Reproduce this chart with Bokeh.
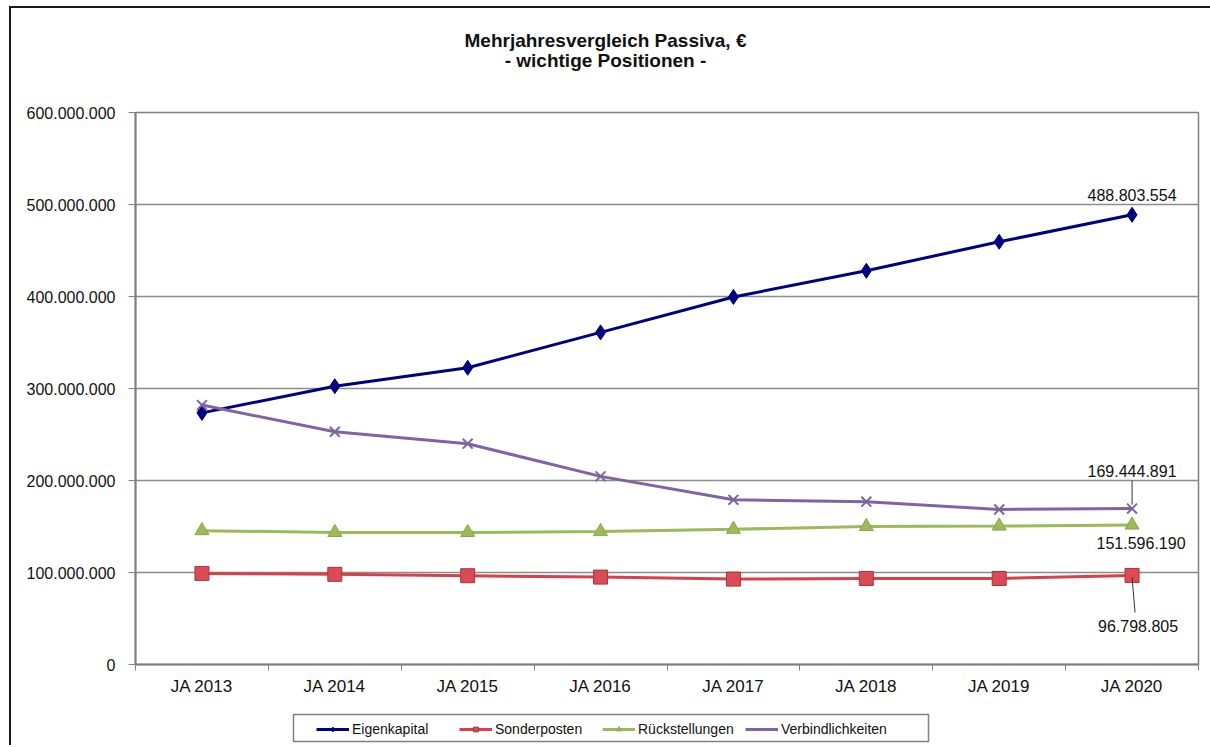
from bokeh.plotting import figure
from bokeh.layouts import column
from bokeh.models import Legend, LegendItem, FixedTicker, Range1d, Label
from bokeh.core.properties import value
from bokeh.embed import file_html
from bokeh.resources import INLINE

# ---- data ----
years = ["JA 2013", "JA 2014", "JA 2015", "JA 2016", "JA 2017", "JA 2018", "JA 2019", "JA 2020"]
eigenkapital = [273.5e6, 302.5e6, 322.5e6, 361.0e6, 399.5e6, 428.0e6, 459.5e6, 488803554]
sonderposten = [99.0e6, 98.0e6, 96.5e6, 95.0e6, 92.8e6, 93.5e6, 93.5e6, 96798805]
rueckstellungen = [145.5e6, 143.5e6, 143.5e6, 144.5e6, 147.0e6, 150.0e6, 150.5e6, 151596190]
verbindlichkeiten = [282.0e6, 253.0e6, 240.0e6, 204.5e6, 179.0e6, 177.0e6, 168.5e6, 169444891]
series_names = ["Eigenkapital", "Sonderposten", "Rückstellungen", "Verbindlichkeiten"]
y_ticks = [0, 100e6, 200e6, 300e6, 400e6, 500e6, 600e6]
y_tick_labels = ["0", "100.000.000", "200.000.000", "300.000.000", "400.000.000", "500.000.000", "600.000.000"]
end_labels = ["488.803.554", "96.798.805", "151.596.190", "169.444.891"]
title_lines = ["Mehrjahresvergleich Passiva, €", "- wichtige Positionen -"]

FONT = "Liberation Sans"
W = 1199
FL, FR = 135, 1198   # horizontal extent of the plotting frame on the page (column aligns frames)
xs = [i + 0.5 for i in range(len(years))]
bounds = [i for i in range(len(years) + 1)]

styles = {
    "Eigenkapital": dict(line_color="#000080", marker="diamond", size=15, fill_color="#000080", mline="#000080"),
    "Sonderposten": dict(line_color="#d9404b", marker="square", size=14, fill_color="#dc4a55", mline="#a03a3a"),
    "Rückstellungen": dict(line_color="#9bbb59", marker="triangle", size=14, fill_color="#9bbb59", mline="#86a84a"),
    "Verbindlichkeiten": dict(line_color="#8064a2", marker="x", size=14, fill_color="#8064a2", mline="#8064a2"),
}

# ---------- title strip ----------
t_h = 96
pt = figure(width=W, height=t_h, output_backend="svg", toolbar_location=None,
            x_range=Range1d(FL, FR), y_range=Range1d(0, t_h),
            x_axis_type=None, y_axis_type=None, min_border=0)
pt.grid.visible = False
pt.outline_line_color = None
pt.text(x=[605, 605], y=[t_h - 32, t_h - 52], text=title_lines,
        text_font=value(FONT), text_font_size="19px", text_font_style="bold",
        text_color="#111111", text_align="center", text_baseline="middle")

# ---------- main chart ----------
p = figure(width=W, height=598, output_backend="svg", toolbar_location=None,
           x_range=Range1d(0, len(years)), y_range=Range1d(0, 600e6),
           min_border_left=124, min_border_right=12, min_border_top=8, min_border_bottom=38)
p.background_fill_color = "white"
p.border_fill_color = "white"
p.outline_line_color = "#808080"
p.outline_line_width = 1.5

p.xaxis.ticker = FixedTicker(ticks=xs, minor_ticks=bounds)
p.xaxis.major_label_overrides = {x: y for x, y in zip(xs, years)}
p.xaxis.major_tick_out = 0
p.xaxis.major_tick_in = 0
p.xaxis.minor_tick_out = 6
p.xaxis.minor_tick_in = 0
p.xaxis.minor_tick_line_color = "#808080"
p.xaxis.axis_line_color = "#808080"
p.xaxis.axis_line_width = 2
p.xaxis.major_label_text_font = FONT
p.xaxis.major_label_text_font_size = "17px"
p.xaxis.major_label_text_color = "#111111"
p.xaxis.major_label_standoff = 6

p.yaxis.ticker = FixedTicker(ticks=y_ticks)
p.yaxis.major_label_overrides = {t: l for t, l in zip(y_ticks, y_tick_labels)}
p.yaxis.major_tick_out = 7
p.yaxis.major_tick_in = 0
p.yaxis.major_tick_line_color = "#808080"
p.yaxis.minor_tick_line_color = None
p.yaxis.axis_line_color = "#808080"
p.yaxis.axis_line_width = 2
p.yaxis.major_label_text_font = FONT
p.yaxis.major_label_text_font_size = "16px"
p.yaxis.major_label_text_color = "#111111"
p.yaxis.major_label_standoff = 13

p.xgrid.grid_line_color = None
p.ygrid.ticker = FixedTicker(ticks=y_ticks)
p.ygrid.grid_line_color = "#8c8c8c"
p.ygrid.grid_line_width = 1.5

for name, vals in zip(series_names, [eigenkapital, sonderposten, rueckstellungen, verbindlichkeiten]):
    s = styles[name]
    p.line(xs, vals, line_color=s["line_color"], line_width=3)
    p.scatter(xs, vals, marker=s["marker"], size=s["size"], fill_color=s["fill_color"],
              line_color=s["mline"], line_width=2 if s["marker"] == "x" else 1)

# end-point labels
px_val = 600e6 / 552.0  # value per screen pixel
px_x = len(years) / 1063.0
lx = xs[-1]
label_style = dict(text_font=FONT, text_font_size="16px", text_color="#111111", text_align="center")
p.add_layout(Label(x=lx, y=eigenkapital[-1], text=end_labels[0], y_offset=20,
                   text_baseline="alphabetic", **label_style))
p.add_layout(Label(x=lx, y=verbindlichkeiten[-1], text=end_labels[3], y_offset=38,
                   text_baseline="alphabetic", **label_style))
p.add_layout(Label(x=lx, y=rueckstellungen[-1], text=end_labels[2], y_offset=-12, x_offset=9,
                   text_baseline="top", **label_style))
p.add_layout(Label(x=lx, y=sonderposten[-1], text=end_labels[1], y_offset=-45, x_offset=6,
                   text_baseline="top", **label_style))
p.segment(x0=[lx, lx], y0=[verbindlichkeiten[-1] + 4 * px_val, sonderposten[-1] - 2 * px_val],
          x1=[lx, lx + 3 * px_x], y1=[verbindlichkeiten[-1] + 28 * px_val, sonderposten[-1] - 37 * px_val],
          line_color="#333333", line_width=1)

# ---------- legend strip ----------
l_h = 43
pl = figure(width=W, height=l_h, output_backend="svg", toolbar_location=None,
            x_range=Range1d(FL, FR), y_range=Range1d(0, l_h),
            x_axis_type=None, y_axis_type=None, min_border=0)
pl.grid.visible = False
pl.outline_line_color = None
pl.quad(left=[293], right=[928], bottom=[4], top=[31],
        fill_color="white", line_color="#808080", line_width=1.5)
items = []
for name in series_names:
    s = styles[name]
    # legend-only renderers (kept outside the visible range)
    lr = pl.line(x=[FL, FL + 1], y=[-50, -50], line_color=s["line_color"], line_width=3)
    mr = pl.scatter(x=[FL], y=[-50], marker=s["marker"], size=7, fill_color=s["fill_color"],
                    line_color=s["mline"])
    items.append(LegendItem(label=name, renderers=[lr, mr]))
legend = Legend(items=items, orientation="horizontal", location=(181, 8))
legend.label_text_font = FONT
legend.label_text_font_size = "14px"
legend.label_text_color = "#111111"
legend.glyph_width = 33
legend.glyph_height = 12
legend.label_standoff = 3
legend.label_width = 107
legend.spacing = 0
legend.padding = 4
legend.margin = 0
legend.border_line_color = None
legend.background_fill_alpha = 0
pl.add_layout(legend, "center")

layout = column(pt, p, pl, spacing=0)
layout.styles = {"border-top": "2px solid #1a1a1a", "border-left": "2px solid #1a1a1a",
                 "margin-left": "9px", "margin-top": "6px"}

open("out.html", "w").write(file_html(layout, INLINE))
